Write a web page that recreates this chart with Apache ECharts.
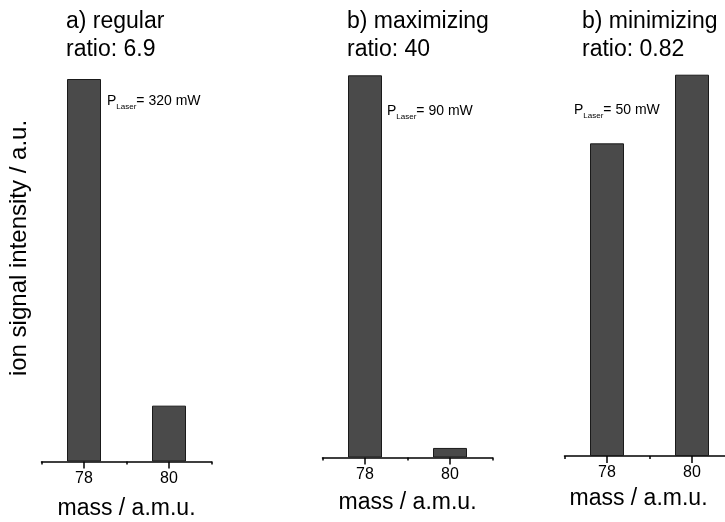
<!DOCTYPE html>
<html>
<head>
<meta charset="utf-8">
<script src="https://cdn.jsdelivr.net/npm/echarts@6/dist/echarts.min.js"></script>
<style>
  html, body { margin: 0; padding: 0; background: #fff; }
  #chart { width: 725px; height: 522px; }
</style>
</head>
<body>
<div id="chart"></div>
<script>
// masses on the x axis
const masses = ['78', '80'];
// ion signal, arbitrary units (78 and 80 a.m.u.)
const regularValues = [100, 14.6];
const maximizingValues = [100, 2.5];
const minimizingValues = [82, 100];
// panel headings
const panelTitles = ['a) regular\nratio: 6.9', 'b) maximizing\nratio: 40', 'b) minimizing\nratio: 0.82'];
const laserPowers = ['320 mW', '90 mW', '50 mW'];

const font = 'Liberation Sans, Arial, sans-serif';
const barColor = '#4a4a4a';

// one grid per panel, all placed by hand to match the figure
const panels = [
  { left: 41.5, top: 79, axisY: 461.5, values: regularValues, nameGap: 36, namePad: 0 },
  { left: 322.5, top: 75.3, axisY: 457.5, values: maximizingValues, nameGap: 34, namePad: 0 },
  { left: 564.5, top: 74.7, axisY: 456, values: minimizingValues, nameGap: 31, namePad: 22 }
];
const panelWidth = 170;
const longTick = 7;

// band edges and band centres alternate: '', 78, '', 80, ''
const tickSlots = [''];
masses.forEach(function (m) { tickSlots.push(m, ''); });

const grid = [];
const xAxis = [];
const yAxis = [];
const series = [];

function hiddenY(g) {
  return {
    type: 'value',
    gridIndex: g,
    min: 0,
    max: 100,
    axisLine: { show: false },
    axisTick: { show: false },
    axisLabel: { show: false },
    splitLine: { show: false }
  };
}

panels.forEach(function (p, i) {
  // grid 2i: the bars; grid 2i+1: a thin strip under the axis whose split lines are the long ticks
  grid.push({
    left: p.left, top: p.top, width: panelWidth, height: p.axisY - p.top,
    outerBoundsMode: 'none', containLabel: false
  });
  grid.push({
    left: p.left, top: p.axisY, width: panelWidth, height: longTick,
    outerBoundsMode: 'none', containLabel: false
  });

  xAxis.push({
    type: 'category',
    gridIndex: 2 * i,
    data: masses,
    name: 'mass / a.m.u.',
    nameLocation: 'middle',
    nameGap: p.nameGap,
    nameTextStyle: { fontFamily: font, fontSize: 23, color: '#000', padding: [0, p.namePad, 0, 0] },
    axisLine: { show: true, lineStyle: { color: '#000', width: 1.5 } },
    axisTick: { show: true, length: 3, lineStyle: { color: '#000', width: 1.5 } },
    axisLabel: { fontFamily: font, fontSize: 16, color: '#000', margin: 9 }
  });
  xAxis.push({
    type: 'category',
    gridIndex: 2 * i + 1,
    data: tickSlots,
    boundaryGap: false,
    axisLine: { show: false },
    axisTick: { show: false },
    axisLabel: { show: false },
    splitLine: {
      show: true,
      interval: function (idx) { return idx % 2 === 1; },
      lineStyle: { color: '#000', width: 1.5 }
    }
  });
  yAxis.push(hiddenY(2 * i));
  yAxis.push(hiddenY(2 * i + 1));

  series.push({
    type: 'bar',
    xAxisIndex: 2 * i,
    yAxisIndex: 2 * i,
    data: p.values,
    barWidth: 34,
    itemStyle: { color: barColor, borderColor: '#1a1a1a', borderWidth: 1 },
    silent: true
  });
});

const titleLefts = [66, 347, 582];
const title = panelTitles.map(function (t, i) {
  return {
    text: t,
    left: titleLefts[i],
    top: 8,
    padding: 0,
    textStyle: { fontFamily: font, fontSize: 23, fontWeight: 'normal', color: '#000', lineHeight: 28 }
  };
});

const laserPos = [[107, 94], [387, 104], [574, 103]];
const graphic = laserPowers.map(function (pw, i) {
  return {
    type: 'text',
    left: laserPos[i][0],
    top: laserPos[i][1],
    style: {
      text: 'P{sub|Laser}= ' + pw,
      font: '14px ' + font,
      fill: '#000',
      rich: {
        sub: { fontSize: 8, fontFamily: font, fill: '#000', verticalAlign: 'bottom', padding: [11, 0, 0, 0] }
      }
    }
  };
});
graphic.push({
  type: 'text',
  x: 19,
  y: 248,
  rotation: Math.PI / 2,
  style: {
    text: 'ion signal intensity / a.u.',
    font: '24px ' + font,
    fill: '#000',
    align: 'center',
    verticalAlign: 'middle'
  }
});

const chart = echarts.init(document.getElementById('chart'));
chart.setOption({
  backgroundColor: '#fff',
  animation: false,
  title: title,
  grid: grid,
  xAxis: xAxis,
  yAxis: yAxis,
  series: series,
  graphic: graphic
});
</script>
</body>
</html>
